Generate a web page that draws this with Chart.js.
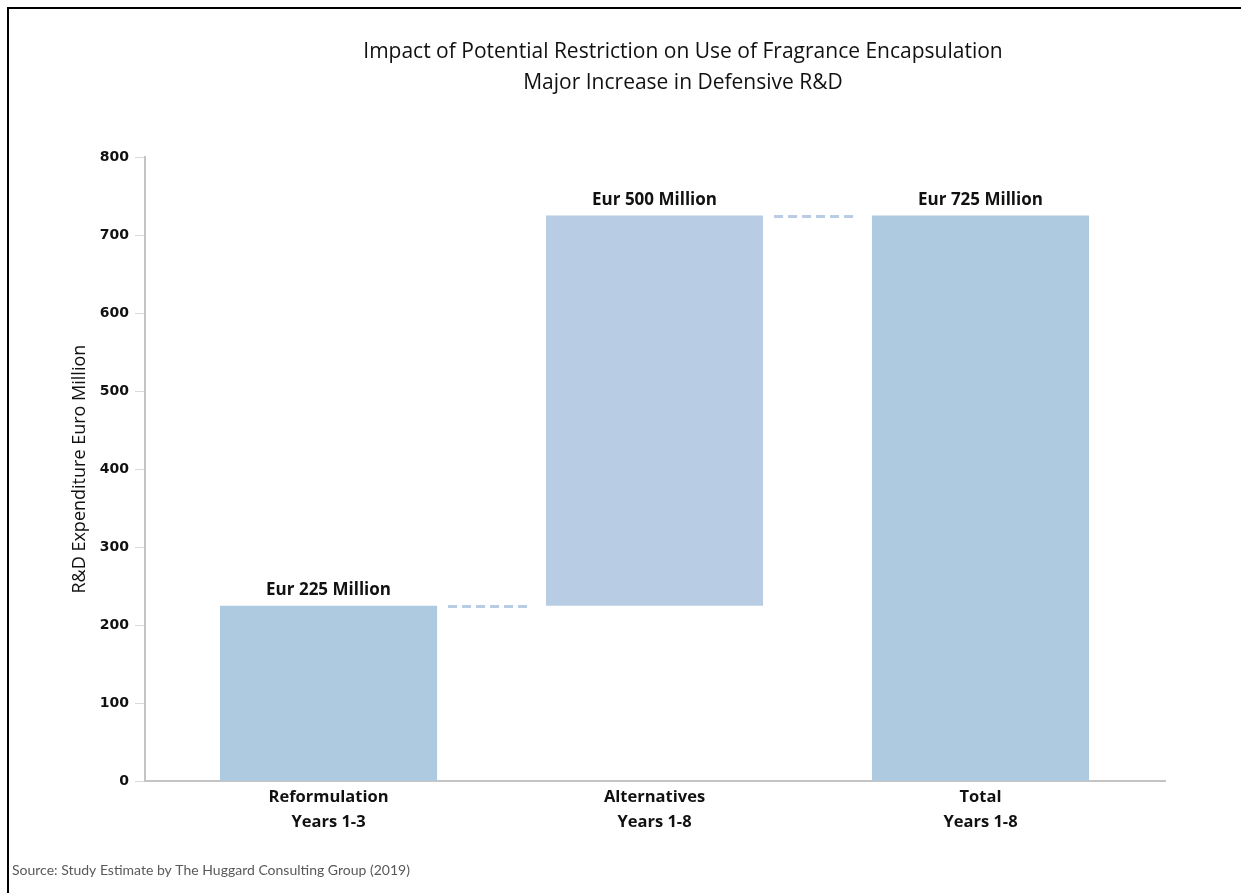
<!DOCTYPE html>
<html>
<head>
<meta charset="utf-8">
<script src="https://cdn.jsdelivr.net/npm/chart.js@4.4.1/dist/chart.umd.min.js"></script>
<style>
  html, body { margin: 0; padding: 0; background: #fff; overflow: hidden; }
  #wrap { position: relative; width: 1241px; height: 893px; overflow: hidden; }
  .rule { position: absolute; background: #000; pointer-events: none; }
  #ruleTop { left: 7px; top: 7px; width: 1234px; height: 2px; }
  #ruleLeft { left: 7px; top: 7px; width: 2px; height: 886px; }
</style>
</head>
<body>
<div id="wrap">
  <canvas id="chart" width="1241" height="893"></canvas>
  <div class="rule" id="ruleTop"></div>
  <div class="rule" id="ruleLeft"></div>
</div>
<script>
// Waterfall data
const categories = [['Reformulation', 'Years 1-3'], ['Alternatives', 'Years 1-8'], ['Total', 'Years 1-8']];
const barStarts = [0, 225, 0];
const barEnds = [225, 725, 725];
const valueLabels = ['Eur 225 Million', 'Eur 500 Million', 'Eur 725 Million'];
const barColors = ['#aecae1', '#b8cce4', '#aecae1'];
const titleLines = ['Impact of Potential Restriction on Use of Fragrance Encapsulation', 'Major Increase in Defensive R&D'];
const yTitle = 'R&D Expenditure Euro Million';
const sourceText = 'Source: Study Estimate by The Huggard Consulting Group (2019)';
const yMin = 0, yMax = 800, yStep = 100;

const points = categories.map((c, i) => ({ x: i, y: [barStarts[i], barEnds[i]] }));

// chart title (sits right of centre in the original, so drawn by hand)
const titleDraw = {
  id: 'titleDraw',
  afterDraw(chart) {
    const ctx = chart.ctx;
    ctx.save();
    ctx.fillStyle = '#111';
    ctx.font = '21px "Open Sans"';
    ctx.textAlign = 'center';
    ctx.textBaseline = 'middle';
    titleLines.forEach((t, i) => ctx.fillText(t, 683, 52 + i * 31));
    ctx.restore();
  }
};

// labels above the bars + dashed connectors between them
const waterfallExtras = {
  id: 'waterfallExtras',
  afterDatasetsDraw(chart) {
    const ctx = chart.ctx;
    const bars = chart.getDatasetMeta(0).data;
    const yScale = chart.scales.y;
    ctx.save();
    ctx.strokeStyle = '#b8cce4';
    ctx.lineWidth = 3;
    ctx.setLineDash([9, 5]);
    for (let i = 0; i < bars.length - 1; i++) {
      const a = bars[i], b = bars[i + 1];
      const y = Math.round(yScale.getPixelForValue(barEnds[i])) + 0.5;
      ctx.beginPath();
      ctx.moveTo(a.x + a.width / 2 + 11, y);
      ctx.lineTo(b.x - b.width / 2 - 14, y);
      ctx.stroke();
    }
    ctx.setLineDash([]);
    ctx.fillStyle = '#111';
    ctx.font = 'bold 17px "Open Sans"';
    ctx.textAlign = 'center';
    ctx.textBaseline = 'middle';
    bars.forEach((bar, i) => {
      const top = Math.min(bar.y, bar.base);
      ctx.fillText(valueLabels[i], bar.x, top - 15);
    });
    ctx.restore();
  }
};

new Chart(document.getElementById('chart').getContext('2d'), {
  type: 'bar',
  data: {
    datasets: [{
      data: points,
      backgroundColor: barColors,
      borderWidth: 0,
      categoryPercentage: 1,
      barPercentage: 0.666
    }]
  },
  options: {
    responsive: false,
    animation: false,
    layout: { padding: { left: 12, right: 76, top: 157, bottom: 0 } },
    plugins: {
      legend: { display: false },
      tooltip: { enabled: false },
      title: { display: false },
      subtitle: {
        display: true,
        text: sourceText,
        position: 'bottom',
        align: 'start',
        color: '#595959',
        font: { family: 'Lato', size: 14, weight: 'normal', lineHeight: 1.2 },
        padding: { top: 0, bottom: 14 }
      }
    },
    scales: {
      x: {
        type: 'linear',
        offset: false,
        min: -0.563,
        max: 2.566,
        afterBuildTicks: ax => { ax.ticks = categories.map((c, i) => ({ value: i })); },
        afterFit: ax => { ax.height = 81; },
        grid: { display: false, drawTicks: false },
        border: { display: true, color: '#c4c4c4', width: 2 },
        ticks: {
          color: '#111',
          padding: 4,
          maxRotation: 0,
          font: { family: 'Open Sans', size: 16.5, weight: 'bold', lineHeight: 25 / 16.5 },
          callback: v => categories[v] || ''
        }
      },
      y: {
        min: yMin,
        max: yMax,
        afterFit: ax => { ax.width = 133; },
        grid: { display: true, drawOnChartArea: false, drawTicks: true, tickLength: 10, color: '#d9d9d9', lineWidth: 1 },
        border: { display: true, color: '#c4c4c4', width: 2 },
        ticks: {
          stepSize: yStep,
          color: '#111',
          padding: 6,
          font: { family: 'DejaVu Sans', size: 14, weight: 'bold' }
        },
        title: {
          display: true,
          text: yTitle,
          color: '#111',
          font: { family: 'Open Sans', size: 18, weight: 'normal', lineHeight: 1.2 },
          padding: { top: 57, bottom: 0 }
        }
      }
    }
  },
  plugins: [waterfallExtras, titleDraw]
});
</script>
</body>
</html>
